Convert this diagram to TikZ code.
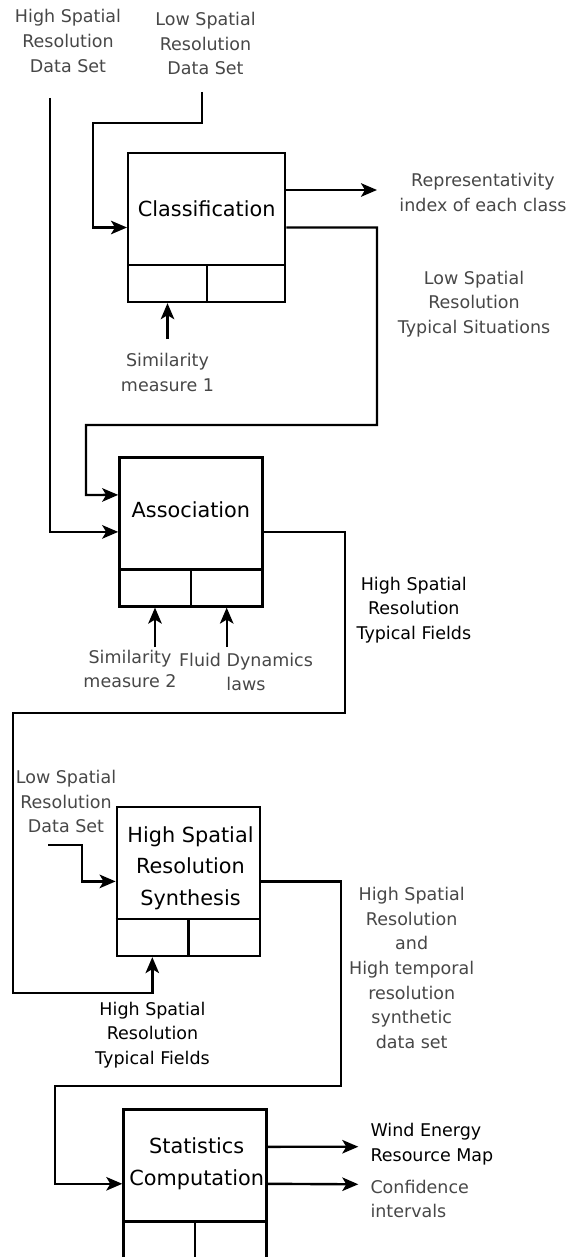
\documentclass[tikz,border=0pt]{standalone}
\usepackage{fontspec}
\setmainfont{DejaVu Sans}
\usetikzlibrary{arrows.meta}

\begin{document}
\begin{tikzpicture}[x=1pt, y=-1pt, line width=2.4pt,
    block/.style={draw, minimum width=143pt, minimum height=149pt, inner sep=0pt},
    blocktitle/.style={align=center, inner sep=0pt, font=\fontsize{20.8}{31.5}\selectfont},
    note/.style={align=center, inner sep=0pt, text=black!72, font=\fontsize{17.5}{24.6}\selectfont},
    boldnote/.style={note, text=black},
    flow/.style={-{Stealth[length=16pt, width=13.5pt, inset=4pt]}}]
    \useasboundingbox (0, 0) rectangle (572, 1257);

    % draw blocks
    \node[block, minimum width=157pt] (class) at (206.7, 227.5) {};
    \node[block] (assoc) at (190.9, 531.9) {};
    \node[block] (synth) at (188.3, 881.4) {};
    \node[block] (stats) at (195, 1183.8) {};
    \foreach \b in {class, assoc, synth, stats} {
        \draw ([yshift=38pt]\b.south west) -- ([yshift=38pt]\b.south east);
        \draw (\b.south) -- ([yshift=38pt]\b.south);
    }

    % block titles
    \node[blocktitle] (classT) at (206.7, 208.3) {Classification};
    \node[blocktitle] (assocT) at (190.9, 510) {Association};
    \node[blocktitle] (synthT) at (190.5, 868) {High Spatial\\Resolution\\Synthesis};
    \node[blocktitle] (statsT) at (196.7, 1163.5) {Statistics\\Computation};

    % labels
    \node[note] (hsrTop) at (68, 41) {High Spatial\\Resolution\\Data Set};
    \node[note] (lsrTop) at (205.5, 43.5) {Low Spatial\\Resolution\\Data Set};
    \node[note] (repr) at (483, 192.5) {Representativity\\index of each class};
    \node[note] (lsrTyp) at (474, 304) {Low Spatial\\Resolution\\Typical Situations};
    \node[note] (sim1) at (167.5, 372.5) {Similarity\\measure 1};
    \node[note] (sim2) at (130, 669) {Similarity\\measure 2};
    \node[note] (fluid) at (246, 672) {Fluid Dynamics\\laws};
    \node[boldnote] (hsrTyp) at (413.8, 610) {High Spatial\\Resolution\\Typical Fields};
    \node[note] (lsrSyn) at (66, 801.7) {Low Spatial\\Resolution\\Data Set};
    \node[note] (synOut) at (411.7, 968) {High Spatial\\Resolution\\and\\High temporal\\resolution\\synthetic\\data set};
    \node[boldnote] (hsrTyp2) at (152.5, 1035) {High Spatial\\Resolution\\Typical Fields};
    \node[boldnote, anchor=west, align=left] (wind) at (369.3, 1144) {Wind Energy\\Resource Map};
    \node[note, anchor=west, align=left] (conf) at (369.3, 1199) {Confidence\\intervals};

    % free ends
    \coordinate (hsrIn) at (50, 98);
    \coordinate (lsrIn) at (201.7, 92);
    \coordinate (reprIn) at (377, 190);
    \coordinate (sim1In) at (167.5, 339);
    \coordinate (sim2In) at (155, 647);
    \coordinate (fluidIn) at (226.7, 647);
    \coordinate (lsrSynIn) at (48.3, 845);
    \coordinate (windIn) at (358.3, 1146.7);
    \coordinate (confIn) at (358.3, 1184.3);

    % draw inputs
    \draw[flow] (lsrIn) |- (93, 123) |- (class.west);
    \draw[flow] (hsrIn) |- (assoc.west);
    \draw[flow] (sim1In) -- (sim1In |- class.south);
    \draw[flow] (sim2In) -- (sim2In |- assoc.south);
    \draw[flow] (fluidIn) -- (fluidIn |- assoc.south);
    \draw[flow] (lsrSynIn) -| (81.7, 881.4) -- (synth.west);

    % draw outputs
    \draw[flow] ([yshift=37.5pt]class.east) -- (reprIn);
    \draw[flow] (class.east) -| (377, 425) -| (86, 495) -- ([yshift=37pt]assoc.west);
    \draw[flow] (assoc.east) -| (345, 713) -| (12.7, 993) -| ([xshift=-36pt]synth.south);
    \draw[flow] (synth.east) -| (340.7, 1085.7) -| (55, 1183.8) -- (stats.west);
    \draw[flow] ([yshift=37pt]stats.east) -- (windIn);
    \draw[flow] (stats.east) -- (confIn);
\end{tikzpicture}
\end{document}
